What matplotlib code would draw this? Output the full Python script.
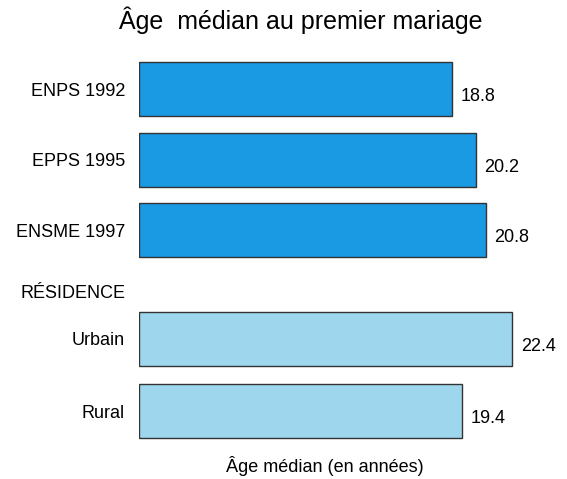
import matplotlib.pyplot as plt

plt.rcParams['font.family'] = ['Liberation Sans', 'DejaVu Sans']

# survey rows and residence rows
survey_labels = ["ENPS 1992", "EPPS 1995", "ENSME 1997"]
survey_values = [18.8, 20.2, 20.8]
residence_labels = ["Urbain", "Rural"]
residence_values = [22.4, 19.4]
section_label = "RÉSIDENCE"

survey_pos = [0, 1, 1.99]
section_pos = 2.85
residence_pos = [3.52, 4.54]

dark_blue = "#1b9ae4"
light_blue = "#9ed6ee"

fig = plt.figure(figsize=(5.67, 4.79), dpi=100)
ax = fig.add_axes([139 / 567, 0, 428 / 567, 1])

ax.barh(survey_pos, survey_values, height=0.76, color=dark_blue,
        edgecolor="#333333", linewidth=1.0)
ax.barh(residence_pos, residence_values, height=0.76, color=light_blue,
        edgecolor="#333333", linewidth=1.0)

### value labels right of each bar
for p, v in zip(survey_pos + residence_pos, survey_values + residence_values):
    ax.text(v + 0.5, p + 0.1, f"{v:.1f}", ha="left", va="center", fontsize=13)

ax.set_xlim(0, 428 / 16.67)
ax.set_ylim((479 - 89) / 71, (0 - 89) / 71)

ax.set_yticks(survey_pos + [section_pos] + residence_pos)
ax.set_yticklabels(survey_labels + [section_label] + residence_labels, fontsize=13)
ax.tick_params(axis="y", length=0, pad=10)
ax.set_xticks([])
for s in ax.spines.values():
    s.set_visible(False)

fig.text(301 / 567, 1 - 20 / 479, "Âge  médian au premier mariage",
         ha="center", va="center", fontsize=18)
fig.text(325 / 567, 1 - 466 / 479, "Âge médian (en années)",
         ha="center", va="center", fontsize=13)

fig.savefig("out.png", dpi=100)
